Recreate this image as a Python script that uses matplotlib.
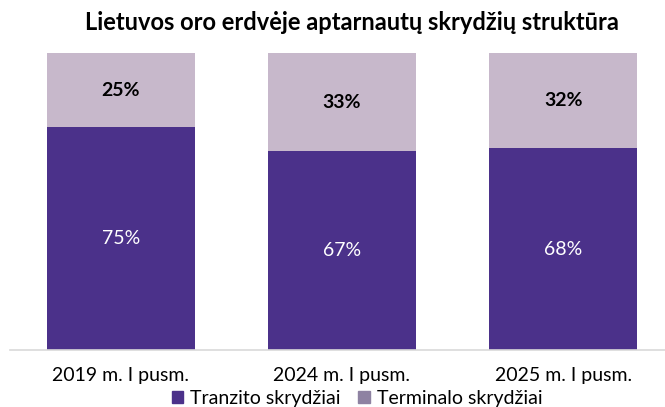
import numpy as np
import matplotlib.pyplot as plt
from matplotlib.patches import Patch

plt.rcParams['font.family'] = ['Lato', 'DejaVu Sans']

categories = ["2019 m. I pusm.", "2024 m. I pusm.", "2025 m. I pusm."]
tranzito = [75, 67, 68]
terminalo = [25, 33, 32]

c_tranzito = "#4B318A"
c_terminalo = "#C7B8CB"
c_legend_term = "#8E82A2"

fig = plt.figure(figsize=(6.65, 4.07), dpi=100)
ax = fig.add_axes([10 / 665, 57 / 407, 1 - 10 / 665, 297 / 407])

x = np.arange(len(categories))
w = 0.668
ax.bar(x, tranzito, w, color=c_tranzito)
ax.bar(x, terminalo, w, bottom=tranzito, color=c_terminalo)

for xi, t, r in zip(x, tranzito, terminalo):
    ax.text(xi, t / 2, f"{t}%", ha="center", va="center", color="white", fontsize=14)
    ax.text(xi, t + r / 2, f"{r}%", ha="center", va="center", color="black",
            fontsize=14, fontweight="bold")

ax.set_xlim(-0.5, 2.46)
ax.set_ylim(0, 100)
ax.set_xticks(x)
ax.set_xticklabels(categories, fontsize=14)
ax.tick_params(axis="x", length=0, pad=12)
ax.set_yticks([])
for s in ["top", "right", "left"]:
    ax.spines[s].set_visible(False)
ax.spines["bottom"].set_color("#D9D9D9")
ax.spines["bottom"].set_linewidth(1.2)

fig.text(352 / 665, 0.945, "Lietuvos oro erdvėje aptarnautų skrydžių struktūra",
         ha="center", va="center", fontsize=17, fontweight="bold")

handles = [Patch(color=c_tranzito, label="Tranzito skrydžiai"),
           Patch(color=c_legend_term, label="Terminalo skrydžiai")]
fig.legend(handles=handles, loc="center", bbox_to_anchor=(357 / 665, 0.022), ncol=2,
           frameon=False, fontsize=14, handlelength=0.6, handleheight=0.6,
           handletextpad=0.35, columnspacing=0.9, borderpad=0)

fig.savefig("out.png", dpi=100)
